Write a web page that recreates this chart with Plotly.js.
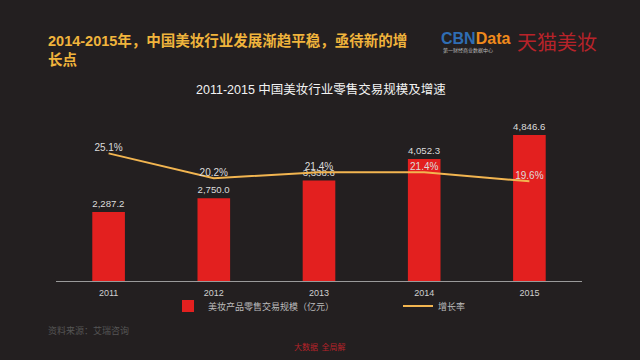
<!DOCTYPE html>
<html><head><meta charset="utf-8">
<script src="https://cdn.plot.ly/plotly-3.0.1.min.js"></script>
<style>html,body{margin:0;padding:0;background:#231f20;}#chart{width:640px;height:360px;}</style>
</head><body><div id="chart"></div>
<script>
const years = ['2011','2012','2013','2014','2015'];
const retailScale = [2287.2, 2750.0, 3338.6, 4052.3, 4846.6];
const growthRate = [25.1, 20.2, 21.4, 21.4, 19.6];
const seriesNames = ['美妆产品零售交易规模（亿元）', '增长率'];

const FONT = '"Liberation Sans", "Noto Sans CJK SC", sans-serif';
const CJK = '"Noto Sans CJK SC", "Noto Sans", sans-serif';

// plot area in pixels
const L = 56, R = 582, T = 100, B = 281;
const px = x => (x - L) / (R - L);
const py = y => (B - y) / (B - T);

const traces = [
  {
    type: 'bar', name: seriesNames[0], x: years, y: retailScale, legend: 'legend',
    marker: {color: '#e3201f'}, width: 0.31,
    texttemplate: '%{y:,.1f}', textposition: 'outside', cliponaxis: false,
    textfont: {size: 10, color: '#dcdcdc', family: FONT}
  },
  {
    type: 'scatter', mode: 'lines+text', name: seriesNames[1], x: years, y: growthRate,
    yaxis: 'y2', legend: 'legend2', line: {color: '#f2b550', width: 2},
    text: growthRate.map(v => v.toFixed(1) + '%'), textposition: 'top center', cliponaxis: false,
    textfont: {size: 10, color: '#dcdcdc', family: FONT}
  }
];

const ann = (x, y, text, font, extra) => Object.assign({
  xref: 'paper', yref: 'paper', x: px(x), y: py(y), showarrow: false,
  xanchor: 'left', yanchor: 'middle', text: text, font: font
}, extra || {});

const legendBase = {
  orientation: 'h', yanchor: 'middle', xanchor: 'left',
  font: {size: 9, color: '#bbbbbb', family: FONT},
  itemwidth: 30, bgcolor: 'rgba(0,0,0,0)'
};

const layout = {
  width: 640, height: 360,
  paper_bgcolor: '#231f20', plot_bgcolor: '#231f20',
  font: {family: FONT, color: '#cccccc'},
  margin: {l: L, r: 640 - R, t: T, b: 360 - B},
  showlegend: true,
  legend: Object.assign({x: px(168), y: py(306)}, legendBase),
  legend2: Object.assign({x: px(398), y: py(306)}, legendBase),
  xaxis: {
    type: 'category', range: [-0.5, 4.5], showline: true, linecolor: '#9a9a9a', linewidth: 1,
    showgrid: false, zeroline: false, ticks: '', ticklabelstandoff: 3,
    tickfont: {size: 9, color: '#cfcfcf', family: FONT}
  },
  yaxis: {range: [0, 6009], visible: false, showgrid: false, zeroline: false},
  yaxis2: {range: [0, 35.6], overlaying: 'y', side: 'right', visible: false, showgrid: false, zeroline: false},
  annotations: [
    ann(321, 90, '2011-2015 中国美妆行业零售交易规模及增速', {size: 12.5, color: '#f2f2f2', family: FONT}, {xanchor: 'center'}),
    ann(46, 30, '<b>2014-2015年，中国美妆行业发展渐趋平稳，亟待新的增<br>长点</b>',
        {size: 14.5, color: '#f0b43c', family: FONT}, {yanchor: 'top', align: 'left'}),
    ann(439, 38, '<b><span style="color:#2f6db3">CBN</span><span style="color:#f08a1c">Data</span></b>',
        {size: 16, family: '"Liberation Sans", Arial, sans-serif'}),
    ann(441, 50, '第一财经商业数据中心', {size: 5, color: '#bbbbbb', family: CJK}),
    ann(557, 41, '天猫美妆', {size: 20, color: '#b8232a', family: CJK}, {xanchor: 'center'}),
    ann(46, 330, '资料来源：艾瑞咨询', {size: 9, color: '#555555', family: CJK}),
    ann(320, 346, '大数据  全局解', {size: 8, color: '#b8232a', family: CJK}, {xanchor: 'center'})
  ]
};

Plotly.newPlot('chart', traces, layout, {displayModeBar: false, staticPlot: true});
</script>
</body></html>
